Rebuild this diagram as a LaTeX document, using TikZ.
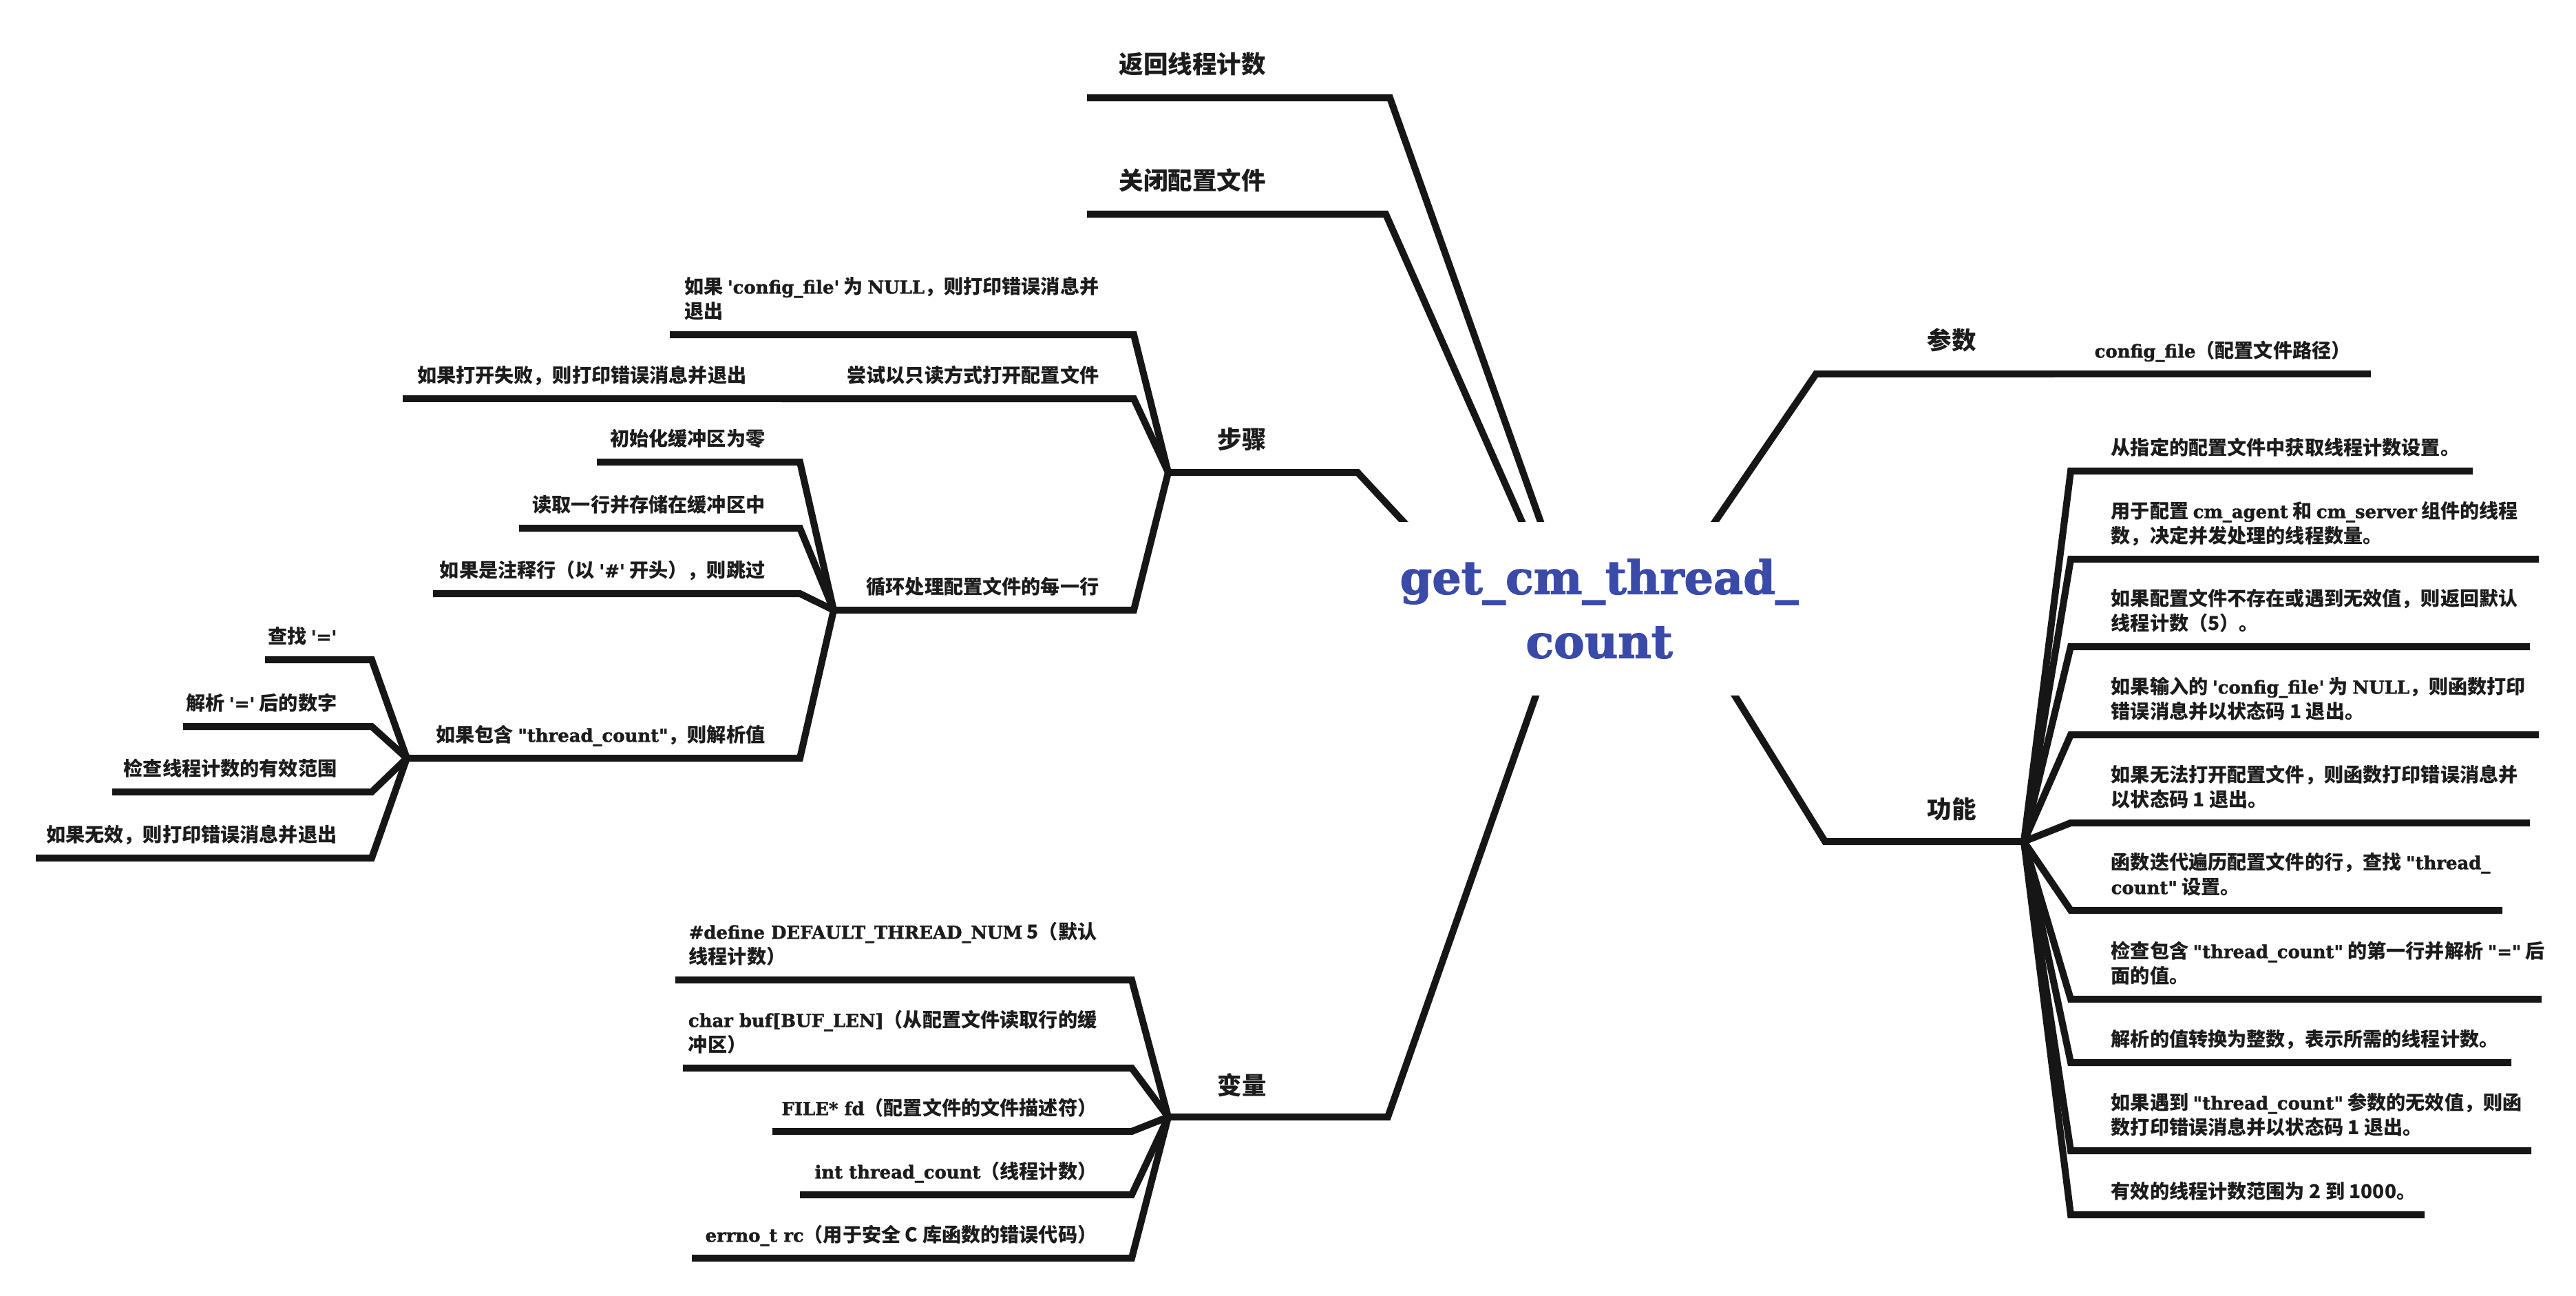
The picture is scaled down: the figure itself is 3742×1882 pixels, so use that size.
\documentclass[tikz,border=0pt]{standalone}
\usepackage{fontspec}
\setmainfont{Noto Sans CJK SC}
\newfontfamily\latfont{DejaVu Serif Bold}[Scale=0.92,Ligatures=TeXOff,FakeBold=1.5]
\newfontfamily\rootfont{DejaVu Serif Bold}[FakeBold=2]
\usetikzlibrary{calc}

\definecolor{rootblue}{RGB}{58,74,168}
\definecolor{linegray}{RGB}{22,22,22}
\definecolor{textgray}{RGB}{28,28,28}

\newcommand{\lt}[1]{{\latfont #1}}
\newcommand{\ls}{\rule[-0.25em]{0pt}{0.95em}}

\begin{document}
\begin{tikzpicture}[x=0.01cm,y=-0.01cm,
  link/.style={line width=0.1cm,draw=linegray,line join=miter},
  root node/.style={fill=white,inner sep=0,minimum width=6.5cm,minimum height=2.52cm,
    align=center,text=rootblue,font=\rootfont\fontsize{19}{26.4}\selectfont},
  topic node/.style={inner sep=0,text=textgray,font=\bfseries\fontsize{10.1}{12}\selectfont},
  leaf node/.style={inner sep=0,text=textgray,align=left,font=\bfseries\fontsize{8}{10.24}\selectfont}]

  \path[fill=white,use as bounding box] (0,0) rectangle (3742,1882);

  % where the branches meet the root box
  \coordinate (a1) at (2238,758);
  \coordinate (a2) at (2211,758);
  \coordinate (a3) at (2039,758);
  \coordinate (a4) at (2231,1010);
  \coordinate (a5) at (2491,758);
  \coordinate (a6) at (2520,1010);

  % underlines: s = end next to the parent, e = free end
  \coordinate (s1) at (2019,142);  \coordinate (e1) at (1579,142);
  \coordinate (s2) at (2013,311);  \coordinate (e2) at (1579,311);
  \coordinate (s3) at (1972,686);  \coordinate (e3) at (1697,686);
  \coordinate (s4) at (2016,1622); \coordinate (e4) at (1697,1622);
  \coordinate (s5) at (2638,543);  \coordinate (e5) at (2984,543);
  \coordinate (s6) at (2651,1222); \coordinate (e6) at (2940,1222);

  \coordinate (s7) at (1647,486);  \coordinate (e7) at (973,486);
  \coordinate (s8) at (1647,579);  \coordinate (e8) at (1135,579);
  \coordinate (s9) at (1135,579);  \coordinate (e9) at (585,579);
  \coordinate (s10) at (1647,886); \coordinate (e10) at (1211,886);
  \coordinate (s11) at (1162,671); \coordinate (e11) at (867,671);
  \coordinate (s12) at (1162,767); \coordinate (e12) at (754,767);
  \coordinate (s13) at (1162,862); \coordinate (e13) at (629,862);
  \coordinate (s14) at (1162,1101); \coordinate (e14) at (591,1101);
  \coordinate (s15) at (540,958);  \coordinate (e15) at (385,958);
  \coordinate (s16) at (540,1055); \coordinate (e16) at (266,1055);
  \coordinate (s17) at (540,1150); \coordinate (e17) at (163,1150);
  \coordinate (s18) at (540,1246); \coordinate (e18) at (52,1246);

  \coordinate (s19) at (1644,1423); \coordinate (e19) at (981,1423);
  \coordinate (s20) at (1644,1551); \coordinate (e20) at (992,1551);
  \coordinate (s21) at (1644,1643); \coordinate (e21) at (1122,1643);
  \coordinate (s22) at (1644,1735); \coordinate (e22) at (1162,1735);
  \coordinate (s23) at (1644,1827); \coordinate (e23) at (1005,1827);

  \coordinate (s24) at (2984,543);  \coordinate (e24) at (3444,543);
  \coordinate (s25) at (3008,684);  \coordinate (e25) at (3592,684);
  \coordinate (s26) at (3008,812);  \coordinate (e26) at (3688,812);
  \coordinate (s27) at (3008,939);  \coordinate (e27) at (3675,939);
  \coordinate (s28) at (3008,1067); \coordinate (e28) at (3688,1067);
  \coordinate (s29) at (3008,1195); \coordinate (e29) at (3675,1195);
  \coordinate (s30) at (3008,1322); \coordinate (e30) at (3635,1322);
  \coordinate (s31) at (3008,1451); \coordinate (e31) at (3692,1451);
  \coordinate (s32) at (3008,1543); \coordinate (e32) at (3648,1543);
  \coordinate (s33) at (3008,1671); \coordinate (e33) at (3677,1671);
  \coordinate (s34) at (3008,1764); \coordinate (e34) at (3522,1764);

  % root branches (run into the box, which is drawn on top)
  \draw[link] ($(s1)!1.3!(a1)$) -- (s1) -- (e1);
  \draw[link] ($(s2)!1.3!(a2)$) -- (s2) -- (e2);
  \draw[link] ($(s3)!1.3!(a3)$) -- (s3) -- (e3);
  \draw[link] ($(s4)!1.3!(a4)$) -- (s4) -- (e4);
  \draw[link] ($(s5)!1.3!(a5)$) -- (s5) -- (e5);
  \draw[link] ($(s6)!1.3!(a6)$) -- (s6) -- (e6);

  % steps
  \draw[link] (e3) -- (s7) -- (e7);
  \draw[link] (e3) -- (s8) -- (e8);
  \draw[link] (e8) -- (s9) -- (e9);
  \draw[link] (e3) -- (s10) -- (e10);
  \draw[link] (e10) -- (s11) -- (e11);
  \draw[link] (e10) -- (s12) -- (e12);
  \draw[link] (e10) -- (s13) -- (e13);
  \draw[link] (e10) -- (s14) -- (e14);
  \draw[link] (e14) -- (s15) -- (e15);
  \draw[link] (e14) -- (s16) -- (e16);
  \draw[link] (e14) -- (s17) -- (e17);
  \draw[link] (e14) -- (s18) -- (e18);

  % variables
  \draw[link] (e4) -- (s19) -- (e19);
  \draw[link] (e4) -- (s20) -- (e20);
  \draw[link] (e4) -- (s21) -- (e21);
  \draw[link] (e4) -- (s22) -- (e22);
  \draw[link] (e4) -- (s23) -- (e23);

  % parameters and functions
  \draw[link] (e5) -- (s24) -- (e24);
  \draw[link] (e6) -- (s25) -- (e25);
  \draw[link] (e6) -- (s26) -- (e26);
  \draw[link] (e6) -- (s27) -- (e27);
  \draw[link] (e6) -- (s28) -- (e28);
  \draw[link] (e6) -- (s29) -- (e29);
  \draw[link] (e6) -- (s30) -- (e30);
  \draw[link] (e6) -- (s31) -- (e31);
  \draw[link] (e6) -- (s32) -- (e32);
  \draw[link] (e6) -- (s33) -- (e33);
  \draw[link] (e6) -- (s34) -- (e34);

  \node[root node] (n0) at (2323,884) {get\_cm\_thread\_\\count};

  \node[topic node,anchor=west] (n1) at (1625,93) {返回线程计数};
  \node[topic node,anchor=west] (n2) at (1625,262) {关闭配置文件};
  \node[topic node] (n3) at (1804,638) {步骤};
  \node[topic node] (n4) at (1804,1576) {变量};
  \node[topic node] (n5) at (2835,494) {参数};
  \node[topic node] (n6) at (2835,1175) {功能};

  \node[leaf node,anchor=south east] (n7) at ($(s7)+(-50,-16)$) {\ls 如果 \lt{'config\_file'} 为 \lt{NULL}，则打印错误消息并\\\ls 退出};
  \node[leaf node,anchor=south east] (n8) at ($(s8)+(-50,-16)$) {\ls 尝试以只读方式打开配置文件};
  \node[leaf node,anchor=south east] (n9) at ($(s9)+(-50,-16)$) {\ls 如果打开失败，则打印错误消息并退出};
  \node[leaf node,anchor=south east] (n10) at ($(s10)+(-50,-16)$) {\ls 循环处理配置文件的每一行};
  \node[leaf node,anchor=south east] (n11) at ($(s11)+(-50,-16)$) {\ls 初始化缓冲区为零};
  \node[leaf node,anchor=south east] (n12) at ($(s12)+(-50,-16)$) {\ls 读取一行并存储在缓冲区中};
  \node[leaf node,anchor=south east] (n13) at ($(s13)+(-50,-16)$) {\ls 如果是注释行（以 \lt{'\#'} 开头），则跳过};
  \node[leaf node,anchor=south east] (n14) at ($(s14)+(-50,-16)$) {\ls 如果包含 \lt{"thread\_count"}，则解析值};
  \node[leaf node,anchor=south east] (n15) at ($(s15)+(-50,-16)$) {\ls 查找 \lt{'='}};
  \node[leaf node,anchor=south east] (n16) at ($(s16)+(-50,-16)$) {\ls 解析 \lt{'='} 后的数字};
  \node[leaf node,anchor=south east] (n17) at ($(s17)+(-50,-16)$) {\ls 检查线程计数的有效范围};
  \node[leaf node,anchor=south east] (n18) at ($(s18)+(-50,-16)$) {\ls 如果无效，则打印错误消息并退出};

  \node[leaf node,anchor=south east] (n19) at ($(s19)+(-50,-16)$) {\ls\lt{\#define DEFAULT\_THREAD\_NUM} 5（默认\\\ls 线程计数）};
  \node[leaf node,anchor=south east] (n20) at ($(s20)+(-50,-16)$) {\ls\lt{char buf[BUF\_LEN]}（从配置文件读取行的缓\\\ls 冲区）};
  \node[leaf node,anchor=south east] (n21) at ($(s21)+(-50,-16)$) {\ls\lt{FILE* fd}（配置文件的文件描述符）};
  \node[leaf node,anchor=south east] (n22) at ($(s22)+(-50,-16)$) {\ls\lt{int thread\_count}（线程计数）};
  \node[leaf node,anchor=south east] (n23) at ($(s23)+(-50,-16)$) {\ls\lt{errno\_t rc}（用于安全 C 库函数的错误代码）};

  \node[leaf node,anchor=south west] (n24) at ($(s24)+(58,-16)$) {\ls\lt{config\_file}（配置文件路径）};
  \node[leaf node,anchor=south west] (n25) at ($(s25)+(58,-16)$) {\ls 从指定的配置文件中获取线程计数设置。};
  \node[leaf node,anchor=south west] (n26) at ($(s26)+(58,-16)$) {\ls 用于配置 \lt{cm\_agent} 和 \lt{cm\_server} 组件的线程\\\ls 数，决定并发处理的线程数量。};
  \node[leaf node,anchor=south west] (n27) at ($(s27)+(58,-16)$) {\ls 如果配置文件不存在或遇到无效值，则返回默认\\\ls 线程计数（5）。};
  \node[leaf node,anchor=south west] (n28) at ($(s28)+(58,-16)$) {\ls 如果输入的 \lt{'config\_file'} 为 \lt{NULL}，则函数打印\\\ls 错误消息并以状态码 1 退出。};
  \node[leaf node,anchor=south west] (n29) at ($(s29)+(58,-16)$) {\ls 如果无法打开配置文件，则函数打印错误消息并\\\ls 以状态码 1 退出。};
  \node[leaf node,anchor=south west] (n30) at ($(s30)+(58,-16)$) {\ls 函数迭代遍历配置文件的行，查找 \lt{"thread\_}\\\ls\lt{count"} 设置。};
  \node[leaf node,anchor=south west] (n31) at ($(s31)+(58,-16)$) {\ls 检查包含 \lt{"thread\_count"} 的第一行并解析 \lt{"="} 后\\\ls 面的值。};
  \node[leaf node,anchor=south west] (n32) at ($(s32)+(58,-16)$) {\ls 解析的值转换为整数，表示所需的线程计数。};
  \node[leaf node,anchor=south west] (n33) at ($(s33)+(58,-16)$) {\ls 如果遇到 \lt{"thread\_count"} 参数的无效值，则函\\\ls 数打印错误消息并以状态码 1 退出。};
  \node[leaf node,anchor=south west] (n34) at ($(s34)+(58,-16)$) {\ls 有效的线程计数范围为 2 到 1000。};
\end{tikzpicture}
\end{document}
